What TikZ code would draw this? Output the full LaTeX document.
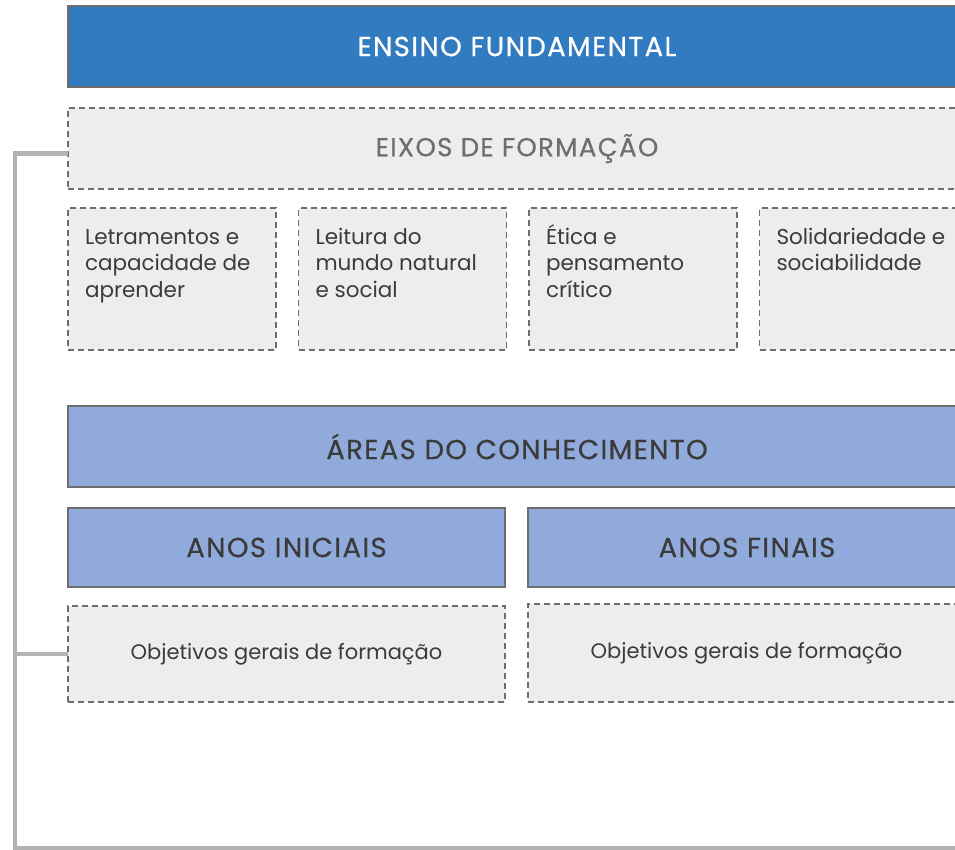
\documentclass[tikz,border=0pt]{standalone}
\usepackage{fontspec}
\setmainfont{Poppins}
\newfontfamily\caixaalta[LetterSpace=5,FakeBold=0.5]{Poppins}
\usetikzlibrary{positioning}
\definecolor{azul}{HTML}{317BC0}
\definecolor{azulclaro}{HTML}{8FAADB}
\definecolor{cinzafundo}{HTML}{EDEDED}
\definecolor{borda}{HTML}{6E6E6E}
\definecolor{trilho}{HTML}{B3B3B3}
\definecolor{textoesc}{HTML}{3B3B3B}
\definecolor{textoclaro}{HTML}{6E6E6E}
\tikzset{
  bloco/.style={rectangle, draw=borda, line width=1.6pt, outer sep=0pt, inner sep=0pt,
    minimum width=898pt, minimum height=81pt, font=\caixaalta\fontsize{27.5}{31}\selectfont, text=textoesc},
  tracejado/.style={bloco, fill=cinzafundo, dashed, dash pattern=on 6pt off 4pt},
  eixo/.style={tracejado, minimum width=208pt, minimum height=142pt, anchor=north west,
    font=\fontsize{21.5}{26.5}\selectfont},
  objetivo/.style={tracejado, font=\fontsize{21}{24}\selectfont},
  trilha/.style={draw=trilho, line width=4.5pt}
}
\newcommand{\eixotexto}[1]{\parbox[t][112pt][t]{174pt}{\raggedright\rule{0pt}{21pt}#1}}
\begin{document}
\begin{tikzpicture}[x=1pt, y=-1pt]
      \useasboundingbox (0,0) rectangle (955,850);
      \clip (0,0) rectangle (955,850);
      % Nodes
      \node (titulo) [bloco, fill=azul, text=white, anchor=north west] at (68,6) {ENSINO FUNDAMENTAL};
      \node (eixos) [tracejado, text=textoclaro, font=\caixaalta\fontsize{26}{30}\selectfont, below=21pt of titulo.south west, anchor=north west] {EIXOS DE FORMAÇÃO};
      \node (letramentos) [eixo, below=19pt of eixos.south west, anchor=north west] {\eixotexto{Letramentos e\\ capacidade de\\ aprender}};
      \node (leitura) [eixo, right=22.5pt of letramentos.north east, anchor=north west] {\eixotexto{Leitura do\\ mundo natural\\ e social}};
      \node (etica) [eixo, right=22.5pt of leitura.north east, anchor=north west] {\eixotexto{Ética e\\ pensamento\\ crítico}};
      \node (solidariedade) [eixo, right=22.5pt of etica.north east, anchor=north west] {\eixotexto{Solidariedade e\\ sociabilidade}};
      \node (areas) [bloco, fill=azulclaro, below=56pt of letramentos.south west, anchor=north west] {ÁREAS DO CONHECIMENTO};
      \node (iniciais) [bloco, fill=azulclaro, minimum width=437pt, minimum height=79pt, below=21pt of areas.south west, anchor=north west] {ANOS INICIAIS};
      \node (finais) [bloco, fill=azulclaro, minimum width=438pt, minimum height=79pt, right=23pt of iniciais.north east, anchor=north west] {ANOS FINAIS};
      \node (objinic) [objetivo, minimum width=437pt, minimum height=96pt, below=19pt of iniciais.south west, anchor=north west] {Objetivos gerais de formação};
      \node (objfin) [objetivo, minimum width=437pt, minimum height=98pt, below=17pt of finais.south west, anchor=north west] {Objetivos gerais de formação};
      \coordinate (cantobaixo) at (15,848);
      \coordinate (fimtrilha) at (980,848);

      % Arrows
      \draw [trilha] ([yshift=-5pt]eixos.west) -| (cantobaixo) -- (fimtrilha);
      \draw [trilha] (objinic.west) -- (objinic.west -| cantobaixo);
  \end{tikzpicture}
\end{document}
